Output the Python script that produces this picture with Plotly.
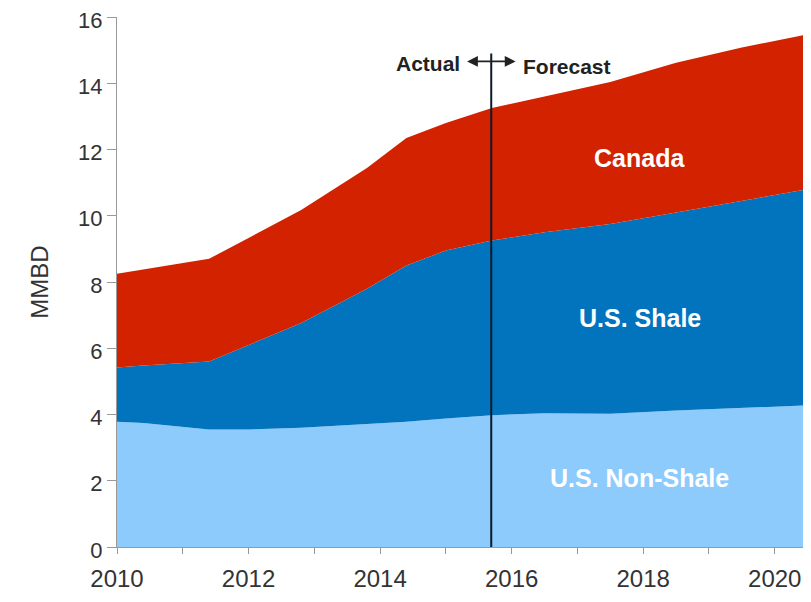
import plotly.graph_objects as go

years = [2010.0, 2010.4, 2011.4, 2012.0, 2012.8, 2013.8, 2014.4, 2015.0, 2015.7,
         2016.5, 2017.5, 2018.5, 2019.5, 2020.55]
us_non_shale = [3.78, 3.74, 3.55, 3.55, 3.60, 3.70, 3.78, 3.88, 3.98, 4.04, 4.02, 4.12, 4.20, 4.28]
us_shale = [1.64, 1.74, 2.05, 2.55, 3.16, 4.10, 4.72, 5.07, 5.27, 5.46, 5.73, 5.98, 6.25, 6.54]
canada = [2.83, 2.90, 3.10, 3.23, 3.41, 3.64, 3.85, 3.85, 4.00, 4.10, 4.29, 4.52, 4.63, 4.68]

x_ticks = [2010, 2012, 2014, 2016, 2018, 2020]
y_ticks = [0, 2, 4, 6, 8, 10, 12, 14, 16]
split_year = 2015.69

series = [
    ("U.S. Non-Shale", us_non_shale, "#8ccbfb"),
    ("U.S. Shale", us_shale, "#0274bd"),
    ("Canada", canada, "#d22200"),
]

fig = go.Figure()
for name, vals, col in series:
    fig.add_trace(go.Scatter(
        x=years, y=vals, name=name, mode="lines", stackgroup="one",
        line=dict(width=0, color=col), fillcolor=col, hoverinfo="x+y+name"))

font_family = "Arial, Liberation Sans, sans-serif"

fig.add_shape(type="line", x0=split_year, x1=split_year, y0=0, y1=14.9,
              xref="x", yref="y", line=dict(color="#0d1a2a", width=2))

labels = [("Canada", 2017.95, 11.74), ("U.S. Shale", 2017.95, 6.91), ("U.S. Non-Shale", 2017.95, 2.08)]
for txt, xv, yv in labels:
    fig.add_annotation(x=xv, y=yv, text=f"<b>{txt}</b>", showarrow=False,
                       font=dict(family=font_family, size=25, color="white"))

fig.add_annotation(x=2015.24, y=14.6, text="<b>Actual</b>", showarrow=False, xanchor="right",
                   font=dict(family=font_family, size=21, color="#222222"))
fig.add_annotation(x=2016.14, y=14.5, text="<b>Forecast</b>", showarrow=False, xanchor="left",
                   font=dict(family=font_family, size=21, color="#222222"))
fig.add_annotation(x=2016.06, y=14.66, ax=2015.3, ay=14.66, xref="x", yref="y",
                   axref="x", ayref="y", text="", showarrow=True, arrowhead=2,
                   startarrowhead=2, arrowside="end+start", arrowsize=1.2,
                   arrowwidth=1.8, arrowcolor="#222222")

fig.update_layout(
    width=795, height=586,
    margin=dict(l=109, r=0, t=9, b=47, autoexpand=False),
    paper_bgcolor="white", plot_bgcolor="white",
    showlegend=False,
    font=dict(family=font_family, size=24, color="#333333"),
)
fig.update_xaxes(
    range=[2010, 2020.43], tickvals=x_ticks, ticktext=[str(v) for v in x_ticks],
    showgrid=False, zeroline=False, showline=True, linecolor="#999999", linewidth=1,
    ticks="outside", ticklen=6, tickcolor="#999999", automargin=False,
    ticklabelstandoff=4,
    minor=dict(dtick=1, tick0=2010, ticks="outside", ticklen=6, tickcolor="#999999"),
    tickfont=dict(size=24, color="#333333"))
fig.update_yaxes(
    range=[0, 16], tickvals=y_ticks, showgrid=False, zeroline=False,
    showline=True, linecolor="#999999", linewidth=1, automargin=False,
    ticks="outside", ticklen=9, tickcolor="#999999", ticklabeloverflow="allow",
    ticklabelshift=3,
    title=dict(text="MMBD", font=dict(size=24, color="#333333"), standoff=22),
    tickfont=dict(size=22, color="#333333"))

fig.write_html("out.html")
